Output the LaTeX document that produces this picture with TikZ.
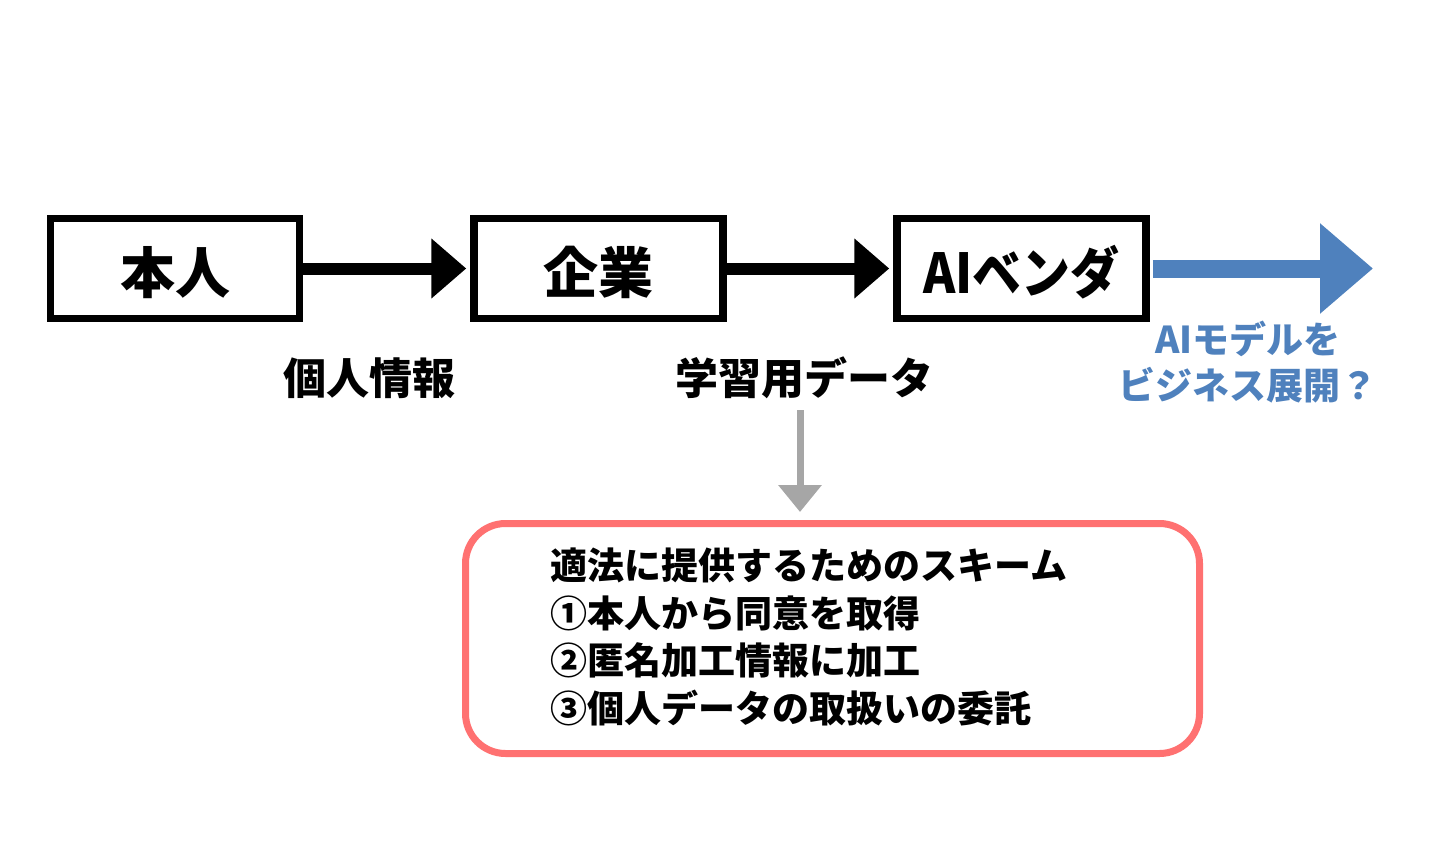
\documentclass[tikz,border=0pt]{standalone}
\usepackage{fontspec}
\usepackage{graphicx}
\setmainfont{Noto Sans CJK JP}
\usetikzlibrary{arrows.meta}
\definecolor{ablue}{HTML}{4F81BD}
\definecolor{agray}{HTML}{A6A6A6}
\definecolor{ared}{HTML}{FF7171}
\newcommand{\boxtext}[1]{\raisebox{-4pt}[\height][\depth]{#1}}
\tikzset{
  party/.style={draw=black, line width=7.5pt, minimum width=249pt, minimum height=100pt, inner sep=0pt, fill=white, font=\fontsize{55}{60}\selectfont\bfseries},
  flow/.style={line width=12pt, -{Triangle[length=35pt,width=58pt]}, shorten >=4pt},
  lbl/.style={font=\fontsize{43}{48}\selectfont\bfseries, inner sep=0pt},
  bluelbl/.style={font=\fontsize{37}{46}\selectfont\bfseries, text=ablue, align=center, inner sep=0pt},
  bluearrow/.style={draw=ablue, line width=18pt, -{Triangle[length=53pt,width=87pt]}, shorten <=3pt},
  grayarrow/.style={draw=agray, line width=7pt, -{Triangle[length=27pt,width=42pt]}, shorten >=8pt},
  scheme/.style={draw=ared, line width=7pt, rounded corners=40pt, minimum width=734pt, minimum height=230pt, inner sep=0pt},
  schemetext/.style={font=\fontsize{37}{47.5}\selectfont\bfseries, align=left, inner sep=0pt, anchor=west}
}
\begin{document}
\begin{tikzpicture}[x=1pt,y=-1pt]
\useasboundingbox (0,0) rectangle (1435,867);
\node[party] (person) at (175,268.5) {\boxtext{本人}};
\node[party] (company) at (598.5,268.5) {\boxtext{企業}};
\node[party] (vendor) at (1021.5,268.5) {\boxtext{\scalebox{0.89}[1]{AIベンダ}}};
\draw[flow] (person.east) -- (company.west);
\draw[flow] (company.east) -- (vendor.west);
\coordinate (bluetip) at (1373,268.5);
\draw[bluearrow] (vendor.east) -- (bluetip);
\node[lbl] (pinfo) at (369,378) {個人情報};
\node[lbl] (tdata) at (804,378) {学習用データ};
\node[bluelbl] (biz) at (1248,362) {AIモデルを\\ビジネス展開？};
\node[scheme] (box) at (832.5,638.5) {};
\coordinate (gtop) at (800,410);
\draw[grayarrow] (gtop) -- (gtop |- box.north);
\node[schemetext] (txt) at (550,637) {適法に提供するためのスキーム\\①本人から同意を取得\\②匿名加工情報に加工\\③個人データの取扱いの委託};
\end{tikzpicture}
\end{document}
